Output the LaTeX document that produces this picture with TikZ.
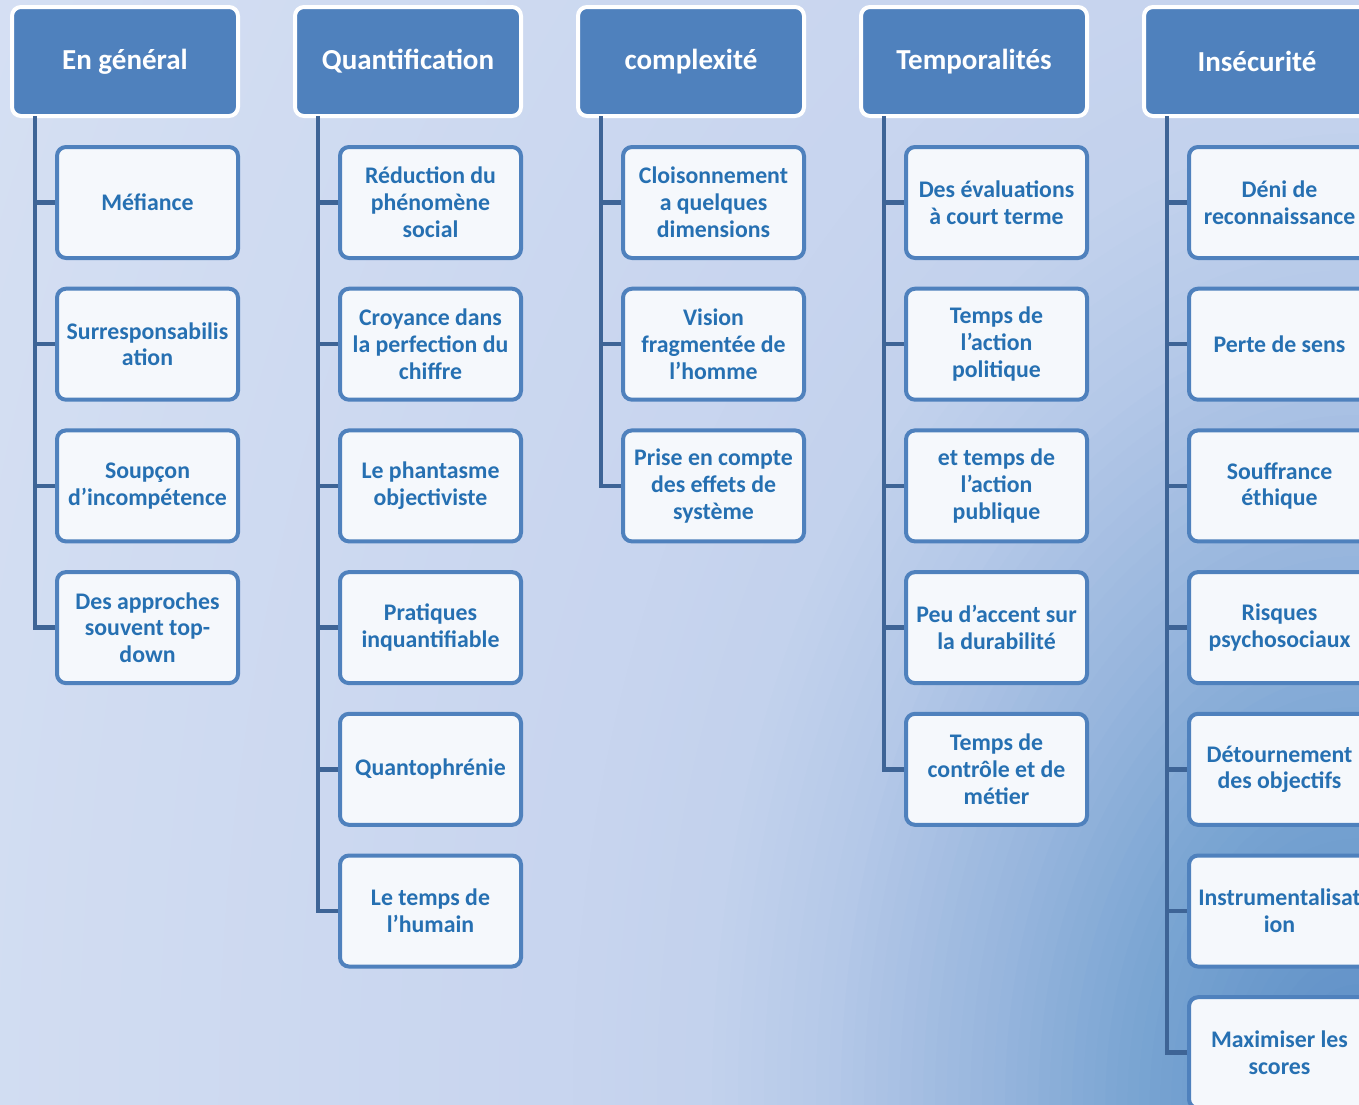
\documentclass[tikz,border=0pt]{standalone}
\usepackage{fontspec}
\setmainfont{Carlito}
\usetikzlibrary{calc}
\definecolor{hdr}{RGB}{79,129,189}
\definecolor{cbord}{RGB}{79,129,189}
\definecolor{cfill}{RGB}{245,248,252}
\definecolor{ctext}{RGB}{38,112,178}
\definecolor{conn}{RGB}{62,100,150}
\definecolor{bgcur}{RGB}{216,226,244}
% background: concentric ellipses around the bottom-right corner
\newcommand\bgseg[9]{% #1 dlo, #2 dhi, #3 steps, #4-#6 rgb at dlo, #7-#9 rgb at dhi
  \foreach \k in {0,...,#3}{
    \pgfmathsetmacro\bgT{\k/#3}
    \pgfmathsetmacro\bgD{#2-(#2-#1)*\bgT}
    \pgfmathsetmacro\bgE{1.5*\bgD}
    \pgfmathtruncatemacro\bgR{#7+(#4-#7)*\bgT}
    \pgfmathtruncatemacro\bgG{#8+(#5-#8)*\bgT}
    \pgfmathtruncatemacro\bgB{#9+(#6-#9)*\bgT}
    \definecolor{bgcur}{RGB}{\bgR,\bgG,\bgB}
    \fill[bgcur] (1359,1104) ellipse [x radius=\bgD pt, y radius=\bgE pt];
  }}
\tikzset{
  hdrbox/.style={draw=white, line width=4pt, fill=hdr, rounded corners=9pt,
    minimum width=226pt, minimum height=109pt, inner sep=0pt, text=white,
    font=\bfseries\fontsize{29}{34}\selectfont},
  childbox/.style={draw=cbord, line width=4pt, fill=cfill, rounded corners=9pt,
    minimum width=181pt, minimum height=111pt, inner sep=0pt, text=ctext, align=center,
    font=\bfseries\fontsize{23.8}{26.8}\selectfont},
  connline/.style={draw=conn, line width=4.5pt, line join=miter}
}
\begin{document}
\begin{tikzpicture}[x=1pt,y=-1pt]
\useasboundingbox (0,0) rectangle (1359,1104);
\clip (0,0) rectangle (1359,1104);
\fill[bgcur] (0,0) rectangle (1359,1104);
\bgseg{800}{1700}{45}{200}{213}{239}{216}{226}{244}
\bgseg{660}{800}{10}{195}{210}{237}{200}{213}{239}
\bgseg{530}{660}{10}{180}{200}{232}{195}{210}{237}
\bgseg{365}{530}{14}{150}{181}{221}{180}{200}{232}
\bgseg{220}{365}{13}{120}{164}{210}{150}{181}{221}
\bgseg{4}{220}{20}{90}{140}{197}{120}{164}{210}
% headers
\foreach \i/\t in {0/En général,1/Quantification,2/complexité,3/Temporalités,4/Insécurité}{
  \node[hdrbox] (h\i) at ({125+283*\i},61.5) {\t};
  \coordinate (t\i) at ({35+283*\i},116);
}
% children
\node[childbox] (c0-0) at (147.5,202.5) {Méfiance};
\node[childbox] (c0-1) at (147.5,344.2) {Surresponsabilis\\ation};
\node[childbox] (c0-2) at (147.5,485.9) {Soupçon\\d’incompétence};
\node[childbox] (c0-3) at (147.5,627.6) {Des approches\\souvent top-\\down};

\node[childbox] (c1-0) at (430.5,202.5) {Réduction du\\phénomène\\social};
\node[childbox] (c1-1) at (430.5,344.2) {Croyance dans\\la perfection du\\chiffre};
\node[childbox] (c1-2) at (430.5,485.9) {Le phantasme\\objectiviste};
\node[childbox] (c1-3) at (430.5,627.6) {Pratiques\\inquantifiable};
\node[childbox] (c1-4) at (430.5,769.3) {Quantophrénie};
\node[childbox] (c1-5) at (430.5,911) {Le temps de\\l’humain};

\node[childbox] (c2-0) at (713.5,202.5) {Cloisonnement\\a quelques\\dimensions};
\node[childbox] (c2-1) at (713.5,344.2) {Vision\\fragmentée de\\l’homme};
\node[childbox] (c2-2) at (713.5,485.9) {Prise en compte\\des effets de\\système};

\node[childbox] (c3-0) at (996.5,202.5) {Des évaluations\\à court terme};
\node[childbox] (c3-1) at (996.5,344.2) {Temps de\\l’action\\politique};
\node[childbox] (c3-2) at (996.5,485.9) {et temps de\\l’action\\publique};
\node[childbox] (c3-3) at (996.5,627.6) {Peu d’accent sur\\la durabilité};
\node[childbox] (c3-4) at (996.5,769.3) {Temps de\\contrôle et de\\métier};

\node[childbox] (c4-0) at (1279.5,202.5) {Déni de\\reconnaissance};
\node[childbox] (c4-1) at (1279.5,344.2) {Perte de sens};
\node[childbox] (c4-2) at (1279.5,485.9) {Souffrance\\éthique};
\node[childbox] (c4-3) at (1279.5,627.6) {Risques\\psychosociaux};
\node[childbox] (c4-4) at (1279.5,769.3) {Détournement\\des objectifs};
\node[childbox] (c4-5) at (1279.5,911) {Instrumentalisat\\ion};
\node[childbox] (c4-6) at (1279.5,1052.7) {Maximiser les\\scores};
% connectors
\foreach \i/\n in {0/3,1/5,2/2,3/4,4/6}{
  \draw[connline] (t\i) |- (c\i-\n.west);
  \foreach \j in {0,...,\n}{
    \draw[connline] (c\i-\j.west) -- (c\i-\j.west -| t\i);
  }
}
\end{tikzpicture}
\end{document}
